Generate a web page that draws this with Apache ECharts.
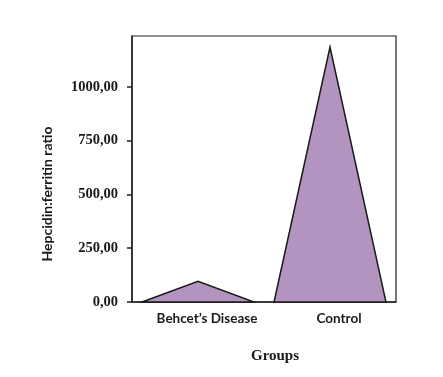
<!DOCTYPE html>
<html>
<head>
<meta charset="utf-8">
<script src="https://cdn.jsdelivr.net/npm/echarts@6/dist/echarts.min.js"></script>
<style>
  html, body { margin: 0; padding: 0; background: #fff; }
  #chart { width: 443px; height: 377px; }
</style>
</head>
<body>
<div id="chart"></div>
<script>
const categories = ['Behcet’s Disease', 'Control'];
const ratioValues = [96, 1185];
const yTickValues = [0, 250, 500, 750, 1000];

const chart = echarts.init(document.getElementById('chart'));

const option = {
  animation: false,
  grid: {
    left: 132,
    right: 47,
    top: 36,
    bottom: 75,
    show: true,
    borderColor: '#222',
    borderWidth: 1.2
  },
  xAxis: {
    type: 'category',
    data: categories,
    boundaryGap: true,
    axisLine: { lineStyle: { color: '#222', width: 1.5 } },
    axisTick: { alignWithLabel: true, length: 5, lineStyle: { color: '#222', width: 1.5 } },
    axisLabel: {
      margin: 10,
      padding: [0, 0, 0, 18],
      color: '#1a1a1a',
      fontFamily: 'Lato',
      fontWeight: 'bold',
      fontSize: 13.5
    }
  },
  yAxis: {
    type: 'value',
    min: 0,
    max: 1236,
    interval: 250,
    splitLine: { show: false },
    axisLine: { show: true, lineStyle: { color: '#222', width: 1.5 } },
    axisTick: { show: true, length: 5, customValues: yTickValues, lineStyle: { color: '#222', width: 1.5 } },
    axisLabel: {
      customValues: yTickValues,
      margin: 14,
      color: '#1a1a1a',
      fontFamily: 'Liberation Serif',
      fontWeight: 'bold',
      fontSize: 14.5,
      formatter: (v) => Number(v).toFixed(2).replace('.', ',')
    }
  },
  graphic: [
    {
      type: 'text',
      x: 47,
      y: 194,
      rotation: Math.PI / 2,
      style: {
        text: 'Hepcidin:ferritin ratio',
        fill: '#1a1a1a',
        font: 'bold 14px Lato',
        align: 'center',
        verticalAlign: 'middle'
      }
    },
    {
      type: 'text',
      x: 275,
      y: 356,
      style: {
        text: 'Groups',
        fill: '#1a1a1a',
        font: 'bold 15px "Liberation Serif"',
        align: 'center',
        verticalAlign: 'middle'
      }
    }
  ],
  series: [{
    type: 'custom',
    data: categories.map((c, i) => [i, ratioValues[i]]),
    renderItem: (params, api) => {
      const idx = api.value(0);
      const val = api.value(1);
      const band = api.size([1, 0])[0];
      const half = band * 0.424;
      const base = api.coord([idx, 0]);
      const peak = api.coord([idx, val]);
      return {
        type: 'polygon',
        shape: { points: [[base[0] - half, base[1]], peak, [base[0] + half, base[1]]] },
        style: { fill: '#b394c1', stroke: '#1a1a1a', lineWidth: 1.5 }
      };
    }
  }]
};

chart.setOption(option);
</script>
</body>
</html>
